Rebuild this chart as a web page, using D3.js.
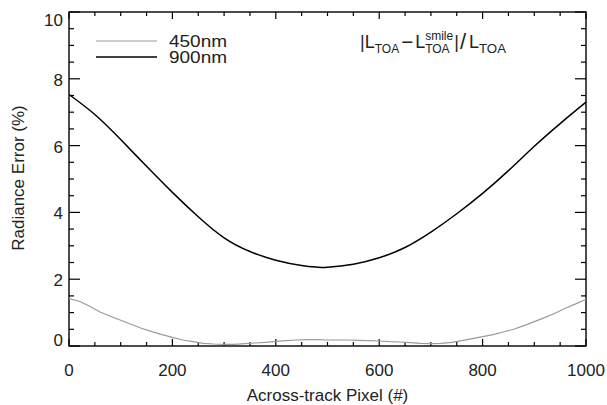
<!DOCTYPE html>
<html>
<head>
<meta charset="utf-8">
<script src="https://cdn.jsdelivr.net/npm/d3@7"></script>
<style>
  html, body { margin: 0; padding: 0; background: #fff; }
  svg { display: block; font-family: "Liberation Sans", Arial, Helvetica, sans-serif; }
</style>
</head>
<body>
<svg id="chart" width="607" height="405"></svg>
<script>
// Across-track pixel positions and radiance error (%) for each band
const pixels450 = [0, 20, 40, 60, 80, 100, 120, 140, 160, 180, 200, 220, 240, 260, 280, 300, 320, 340, 360, 380,
  400, 420, 440, 460, 480, 500, 520, 540, 560, 580, 600, 620, 640, 660, 680, 700, 720, 740, 760, 780,
  800, 820, 840, 860, 880, 900, 920, 940, 960, 980, 1000];
const error450 = [1.42, 1.34, 1.19, 1.02, 0.89, 0.77, 0.65, 0.53, 0.43, 0.34, 0.26, 0.18, 0.13, 0.08, 0.06, 0.05, 0.05, 0.07, 0.09, 0.11,
  0.14, 0.16, 0.18, 0.19, 0.19, 0.18, 0.18, 0.18, 0.17, 0.16, 0.15, 0.13, 0.12, 0.10, 0.08, 0.07, 0.08, 0.11, 0.16, 0.22,
  0.28, 0.34, 0.42, 0.50, 0.61, 0.73, 0.85, 0.98, 1.13, 1.26, 1.40];

const pixels900 = [0, 50, 100, 150, 200, 250, 300, 350, 400, 450, 480, 500, 550, 600, 650, 700, 750, 800, 850, 900, 950, 1000];
const error900 = [7.53, 6.93, 6.18, 5.38, 4.60, 3.87, 3.24, 2.83, 2.57, 2.41, 2.36, 2.36, 2.45, 2.64, 2.95, 3.41, 3.96, 4.57, 5.25, 5.98, 6.66, 7.30];

const xTicks = [0, 200, 400, 600, 800, 1000];
const yTicks = [0, 2, 4, 6, 8, 10];
const legendLabels = ["450nm", "900nm"];

const svg = d3.select("#chart");
const margin = { left: 69, right: 21, top: 12, bottom: 59 };
const W = 607, H = 405;
const x = d3.scaleLinear().domain([0, 1000]).range([margin.left, W - margin.right]);
const y = d3.scaleLinear().domain([0, 10]).range([H - margin.bottom, margin.top]);

const x0 = x.range()[0], x1 = x.range()[1];
const y0 = y.range()[0], y1 = y.range()[1];

// Tick marks on all four sides (major + minor)
const xMinor = d3.range(0, 1001, 50).filter(v => v % 200 !== 0);
const yMinor = d3.range(0, 10.01, 0.5).filter(v => Math.abs(v % 2) > 1e-6);
const ticks = svg.append("g").attr("stroke", "#000").attr("stroke-width", 1.2);
xTicks.forEach(v => {
  ticks.append("line").attr("x1", x(v)).attr("x2", x(v)).attr("y1", y0).attr("y2", y0 - 7);
  ticks.append("line").attr("x1", x(v)).attr("x2", x(v)).attr("y1", y1).attr("y2", y1 + 7);
});
xMinor.forEach(v => {
  ticks.append("line").attr("x1", x(v)).attr("x2", x(v)).attr("y1", y0).attr("y2", y0 - 4);
  ticks.append("line").attr("x1", x(v)).attr("x2", x(v)).attr("y1", y1).attr("y2", y1 + 4);
});
yTicks.forEach(v => {
  ticks.append("line").attr("x1", x0).attr("x2", x0 + 11).attr("y1", y(v)).attr("y2", y(v));
  ticks.append("line").attr("x1", x1).attr("x2", x1 - 11).attr("y1", y(v)).attr("y2", y(v));
});
yMinor.forEach(v => {
  ticks.append("line").attr("x1", x0).attr("x2", x0 + 5).attr("y1", y(v)).attr("y2", y(v));
  ticks.append("line").attr("x1", x1).attr("x2", x1 - 5).attr("y1", y(v)).attr("y2", y(v));
});

// Plot frame
svg.append("rect")
  .attr("x", x0).attr("y", y1)
  .attr("width", x1 - x0).attr("height", y0 - y1)
  .attr("fill", "none").attr("stroke", "#000").attr("stroke-width", 1.4);

// Tick labels
svg.append("g").selectAll("text").data(xTicks).join("text")
  .attr("x", d => x(d)).attr("y", 376)
  .attr("text-anchor", "middle")
  .attr("font-size", 17).attr("fill", "#222")
  .text(d => d);

svg.append("g").selectAll("text").data(yTicks).join("text")
  .attr("x", 63)
  .attr("y", d => y(d) + (d === 0 ? 0 : d === 10 ? 14 : 7))
  .attr("text-anchor", "end")
  .attr("font-size", 17).attr("fill", "#222")
  .text(d => d);

// Axis titles
svg.append("text")
  .attr("x", x(500)).attr("y", 401)
  .attr("text-anchor", "middle").attr("font-size", 17).attr("fill", "#222")
  .text("Across-track Pixel (#)");
svg.append("text")
  .attr("transform", "translate(24,178) rotate(-90)")
  .attr("text-anchor", "middle").attr("font-size", 17).attr("fill", "#222")
  .text("Radiance Error (%)");

// Curves
svg.append("path")
  .datum(pixels450.map((p, i) => [p, error450[i]]))
  .attr("fill", "none").attr("stroke", "#9a9a9a").attr("stroke-width", 1.2)
  .attr("d", d3.line().x(d => x(d[0])).y(d => y(d[1])).curve(d3.curveLinear));
svg.append("path")
  .datum(pixels900.map((p, i) => [p, error900[i]]))
  .attr("fill", "none").attr("stroke", "#000").attr("stroke-width", 1.5)
  .attr("d", d3.line().x(d => x(d[0])).y(d => y(d[1])).curve(d3.curveNatural));

// Legend
const legendColors = ["#9a9a9a", "#000"];
const legendWidths = [1.2, 1.5];
legendLabels.forEach((lab, i) => {
  const ly = 41 + i * 16;
  svg.append("line").attr("x1", 96).attr("x2", 157).attr("y1", ly).attr("y2", ly)
    .attr("stroke", legendColors[i]).attr("stroke-width", legendWidths[i]);
  svg.append("text").attr("x", 169).attr("y", ly + 5.5)
    .attr("font-size", 16).attr("fill", "#222")
    .attr("textLength", 58).attr("lengthAdjust", "spacingAndGlyphs")
    .text(lab);
});

// Formula annotation: |L_TOA - L^smile_TOA| / L_TOA
const fg = svg.append("g").attr("fill", "#222");
let cx = 360;
const base = 48;
function put(str, size, dy, opts = {}) {
  const t = fg.append("text").attr("x", cx).attr("y", base + dy).attr("font-size", size).text(str);
  if (opts.len) t.attr("textLength", opts.len).attr("lengthAdjust", "spacingAndGlyphs");
  const w = opts.len || t.node().getComputedTextLength();
  if (opts.advance !== false) cx += w;
  return w;
}
put("|", 18, 0);
put("L", 18, 0);
put("TOA", 12, 5);
cx += 2;
put("\u2212", 18, 0, { len: 12 });
cx += 2;
put("L", 18, 0);
const sx = cx;
const wSup = put("smile", 12, -8, { advance: false });
const wSub = put("TOA", 12, 5, { advance: false });
cx = sx + Math.max(wSup, wSub) + 1;
put("|", 18, 0);
cx += 1;
put("/", 22, 1);
cx += 3;
put("L", 18, 0);
put("TOA", 12, 5, { len: 27 });
</script>
</body>
</html>
